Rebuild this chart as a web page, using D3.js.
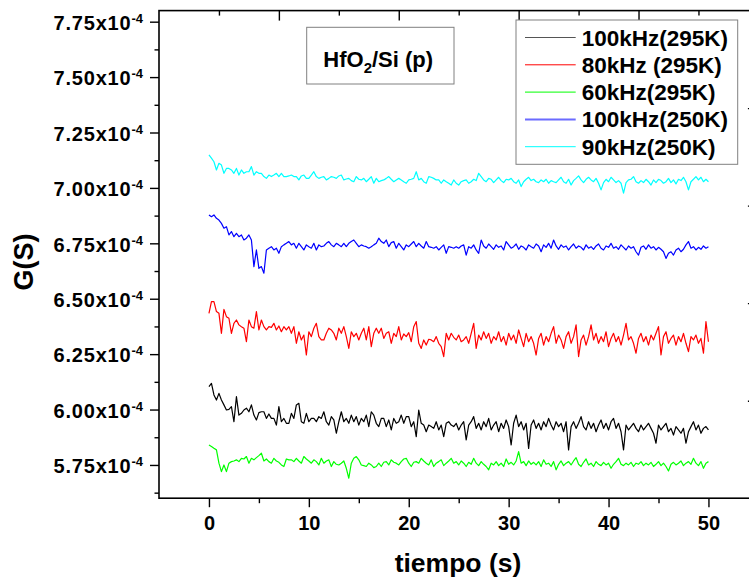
<!DOCTYPE html>
<html>
<head>
<meta charset="utf-8">
<script src="https://cdn.jsdelivr.net/npm/d3@7"></script>
<style>
  body { margin: 0; background: #fff; }
  svg { display: block; font-family: "Liberation Sans", Arial, sans-serif; font-weight: bold; }
  .tick line { stroke: #000; stroke-width: 1.4; }
</style>
</head>
<body>
<div id="container"></div>
<script>
// G(S) in units of 1e-4, sampled every 0.25 s from 0 to 50 s
const dt = 0.25;

const g100k295 = [
  6.103, 6.118, 6.066, 6.043, 6.073, 6.043, 6.021, 5.998, 6.001, 6.013, 5.945, 6.058,
  5.975, 5.983, 5.998, 6.006, 5.990, 6.021, 5.975, 5.953, 5.986, 5.990, 5.990, 5.960,
  5.980, 5.960, 5.960, 5.930, 6.013, 5.945, 5.960, 5.938, 5.938, 5.983, 5.960, 6.021,
  6.028, 5.945, 5.938, 5.983, 5.945, 5.960, 5.960, 5.945, 5.968, 5.960, 5.990, 5.945,
  5.930, 5.968, 5.953, 5.893, 5.945, 5.990, 5.945, 5.960, 5.938, 5.975, 5.945, 5.968,
  5.930, 5.960, 5.945, 5.975, 5.923, 5.990, 5.975, 5.938, 5.923, 5.960, 5.960, 5.923,
  5.953, 5.908, 5.960, 5.938, 5.945, 5.975, 5.938, 5.968, 5.968, 5.923, 5.945, 5.878,
  5.998, 5.938, 5.930, 5.900, 5.930, 5.923, 5.915, 5.945, 5.908, 5.930, 5.878, 5.938,
  5.945, 5.930, 5.923, 5.938, 5.908, 5.930, 5.945, 5.863, 5.930, 5.945, 5.968, 5.915,
  5.938, 5.908, 5.945, 5.923, 5.960, 5.908, 5.930, 5.945, 5.900, 5.938, 5.915, 5.953,
  5.923, 5.840, 5.938, 5.975, 5.923, 5.945, 5.908, 5.938, 5.825, 5.930, 5.953, 5.915,
  5.938, 5.908, 5.945, 5.923, 5.960, 5.930, 5.908, 5.945, 5.923, 5.938, 5.900, 5.945,
  5.818, 5.923, 5.945, 5.915, 5.938, 5.968, 5.923, 5.908, 5.945, 5.915, 5.938, 5.900,
  5.930, 5.953, 5.915, 5.938, 5.908, 5.945, 5.960, 5.915, 5.938, 5.900, 5.818, 5.930,
  5.908, 5.923, 5.938, 5.915, 5.900, 5.930, 5.908, 5.923, 5.938, 5.915, 5.893, 5.848,
  5.930, 5.908, 5.923, 5.938, 5.900, 5.915, 5.885, 5.923, 5.908, 5.893, 5.915, 5.848,
  5.900, 5.923, 5.945, 5.908, 5.930, 5.893, 5.915, 5.923, 5.908
];

const g80k295 = [
  6.434, 6.487, 6.487, 6.442, 6.434, 6.344, 6.452, 6.419, 6.412, 6.344, 6.389, 6.404,
  6.382, 6.374, 6.367, 6.306, 6.404, 6.374, 6.367, 6.442, 6.359, 6.404, 6.374, 6.359,
  6.374, 6.371, 6.389, 6.359, 6.377, 6.351, 6.374, 6.359, 6.374, 6.344, 6.374, 6.299,
  6.351, 6.314, 6.336, 6.246, 6.351, 6.329, 6.367, 6.389, 6.329, 6.314, 6.314, 6.344,
  6.367, 6.359, 6.344, 6.314, 6.367, 6.344, 6.374, 6.329, 6.276, 6.351, 6.329, 6.344,
  6.314, 6.344, 6.367, 6.314, 6.374, 6.284, 6.344, 6.367, 6.344, 6.367, 6.321, 6.344,
  6.351, 6.299, 6.344, 6.329, 6.374, 6.314, 6.341, 6.329, 6.347, 6.306, 6.374, 6.397,
  6.299, 6.276, 6.314, 6.291, 6.317, 6.314, 6.306, 6.329, 6.299, 6.284, 6.239, 6.344,
  6.314, 6.344, 6.326, 6.314, 6.336, 6.306, 6.314, 6.329, 6.299, 6.344, 6.389, 6.276,
  6.336, 6.314, 6.351, 6.321, 6.344, 6.299, 6.329, 6.314, 6.351, 6.306, 6.329, 6.291,
  6.344, 6.314, 6.336, 6.299, 6.359, 6.321, 6.284, 6.344, 6.306, 6.329, 6.299, 6.246,
  6.321, 6.344, 6.291, 6.329, 6.306, 6.344, 6.374, 6.299, 6.336, 6.314, 6.276, 6.329,
  6.351, 6.299, 6.329, 6.382, 6.239, 6.314, 6.336, 6.291, 6.329, 6.382, 6.314, 6.344,
  6.299, 6.329, 6.306, 6.351, 6.284, 6.321, 6.344, 6.306, 6.329, 6.291, 6.336, 6.389,
  6.314, 6.329, 6.299, 6.254, 6.321, 6.344, 6.306, 6.329, 6.291, 6.336, 6.314, 6.344,
  6.374, 6.246, 6.329, 6.351, 6.299, 6.321, 6.336, 6.291, 6.329, 6.306, 6.344, 6.299,
  6.261, 6.329, 6.314, 6.336, 6.299, 6.321, 6.254, 6.397, 6.306
];

const g60k295 = [
  5.840, 5.833, 5.825, 5.818, 5.758, 5.720, 5.750, 5.720, 5.758, 5.765, 5.768, 5.773,
  5.765, 5.780, 5.777, 5.788, 5.758, 5.780, 5.773, 5.783, 5.792, 5.803, 5.768, 5.777,
  5.765, 5.758, 5.780, 5.768, 5.762, 5.750, 5.743, 5.777, 5.773, 5.773, 5.765, 5.780,
  5.768, 5.758, 5.788, 5.777, 5.768, 5.758, 5.773, 5.765, 5.750, 5.780, 5.758, 5.768,
  5.773, 5.743, 5.765, 5.753, 5.750, 5.758, 5.768, 5.735, 5.690, 5.758, 5.780, 5.788,
  5.773, 5.750, 5.747, 5.743, 5.758, 5.750, 5.738, 5.743, 5.758, 5.743, 5.762, 5.765,
  5.750, 5.773, 5.762, 5.758, 5.750, 5.765, 5.777, 5.780, 5.758, 5.743, 5.762, 5.765,
  5.758, 5.780, 5.768, 5.758, 5.750, 5.773, 5.743, 5.758, 5.765, 5.773, 5.747, 5.758,
  5.768, 5.780, 5.758, 5.765, 5.750, 5.768, 5.758, 5.743, 5.762, 5.753, 5.780, 5.758,
  5.747, 5.765, 5.753, 5.743, 5.728, 5.758, 5.750, 5.765, 5.747, 5.758, 5.743, 5.777,
  5.753, 5.762, 5.750, 5.768, 5.810, 5.758, 5.765, 5.747, 5.768, 5.753, 5.762, 5.750,
  5.765, 5.743, 5.773, 5.753, 5.758, 5.743, 5.765, 5.728, 5.753, 5.768, 5.747, 5.758,
  5.765, 5.750, 5.768, 5.783, 5.753, 5.743, 5.762, 5.777, 5.750, 5.758, 5.743, 5.765,
  5.753, 5.747, 5.762, 5.750, 5.758, 5.735, 5.753, 5.765, 5.780, 5.753, 5.747, 5.758,
  5.750, 5.762, 5.743, 5.758, 5.753, 5.765, 5.747, 5.758, 5.750, 5.762, 5.743, 5.753,
  5.765, 5.747, 5.758, 5.743, 5.723, 5.753, 5.762, 5.750, 5.758, 5.768, 5.747, 5.758,
  5.765, 5.753, 5.780, 5.758, 5.747, 5.765, 5.735, 5.758, 5.765
];

const g100k250 = [
  6.878, 6.870, 6.878, 6.863, 6.855, 6.840, 6.818, 6.825, 6.788, 6.803, 6.780, 6.795,
  6.780, 6.788, 6.765, 6.773, 6.788, 6.765, 6.645, 6.720, 6.637, 6.645, 6.615, 6.720,
  6.728, 6.735, 6.720, 6.728, 6.705, 6.735, 6.743, 6.750, 6.758, 6.743, 6.750, 6.728,
  6.750, 6.735, 6.720, 6.743, 6.735, 6.728, 6.750, 6.720, 6.743, 6.735, 6.738, 6.750,
  6.758, 6.743, 6.735, 6.750, 6.743, 6.735, 6.750, 6.735, 6.750, 6.758, 6.765, 6.750,
  6.735, 6.743, 6.738, 6.735, 6.728, 6.735, 6.743, 6.750, 6.773, 6.758, 6.750, 6.765,
  6.735, 6.753, 6.758, 6.728, 6.750, 6.735, 6.720, 6.743, 6.735, 6.747, 6.758, 6.735,
  6.750, 6.738, 6.728, 6.758, 6.735, 6.732, 6.728, 6.735, 6.720, 6.732, 6.743, 6.705,
  6.735, 6.732, 6.728, 6.735, 6.728, 6.738, 6.743, 6.697, 6.735, 6.728, 6.743, 6.720,
  6.705, 6.765, 6.738, 6.728, 6.747, 6.735, 6.723, 6.743, 6.732, 6.738, 6.720, 6.758,
  6.743, 6.728, 6.735, 6.747, 6.723, 6.738, 6.732, 6.720, 6.743, 6.735, 6.728, 6.747,
  6.738, 6.712, 6.743, 6.732, 6.750, 6.728, 6.765, 6.738, 6.723, 6.743, 6.732, 6.738,
  6.720, 6.735, 6.747, 6.728, 6.738, 6.732, 6.720, 6.743, 6.728, 6.735, 6.723, 6.738,
  6.747, 6.728, 6.720, 6.738, 6.732, 6.750, 6.728, 6.735, 6.723, 6.743, 6.732, 6.720,
  6.738, 6.728, 6.735, 6.712, 6.697, 6.732, 6.738, 6.723, 6.743, 6.728, 6.735, 6.720,
  6.732, 6.723, 6.712, 6.682, 6.705, 6.712, 6.697, 6.720, 6.728, 6.712, 6.723, 6.743,
  6.758, 6.728, 6.735, 6.720, 6.732, 6.723, 6.738, 6.728, 6.735
];

const g90k250 = [
  7.149, 7.134, 7.118, 7.081, 7.111, 7.103, 7.066, 7.088, 7.088, 7.081, 7.066, 7.088,
  7.058, 7.081, 7.066, 7.073, 7.073, 7.096, 7.058, 7.073, 7.066, 7.066, 7.051, 7.043,
  7.058, 7.051, 7.058, 7.066, 7.051, 7.066, 7.051, 7.051, 7.054, 7.058, 7.051, 7.051,
  7.036, 7.054, 7.058, 7.043, 7.043, 7.058, 7.073, 7.051, 7.043, 7.048, 7.051, 7.036,
  7.043, 7.051, 7.048, 7.043, 7.054, 7.058, 7.036, 7.040, 7.043, 7.033, 7.028, 7.051,
  7.039, 7.036, 7.043, 7.028, 7.039, 7.051, 7.021, 7.043, 7.028, 7.033, 7.036, 7.043,
  7.051, 7.039, 7.028, 7.036, 7.043, 7.036, 7.028, 7.021, 7.036, 7.039, 7.043, 7.073,
  7.036, 7.043, 7.028, 7.021, 7.051, 7.048, 7.043, 7.036, 7.036, 7.021, 7.036, 7.028,
  7.021, 7.013, 7.036, 7.021, 7.013, 7.028, 7.033, 7.036, 7.021, 7.028, 7.039, 7.033,
  7.066, 7.051, 7.036, 7.028, 7.043, 7.039, 7.024, 7.036, 7.048, 7.033, 7.024, 7.039,
  7.036, 7.043, 7.028, 7.021, 7.036, 7.006, 7.028, 7.039, 7.048, 7.033, 7.039, 7.028,
  7.024, 7.036, 7.028, 7.039, 7.021, 7.033, 7.028, 7.024, 7.036, 7.048, 7.028, 7.021,
  7.039, 7.013, 7.033, 7.043, 7.054, 7.036, 7.024, 7.039, 7.048, 7.036, 7.028, 7.043,
  7.021, 6.991, 7.024, 7.039, 7.028, 7.048, 7.036, 7.024, 7.033, 7.021, 6.976, 7.024,
  7.036, 7.039, 7.051, 7.028, 7.021, 7.033, 7.024, 7.039, 7.028, 7.013, 7.036, 7.024,
  7.039, 7.033, 7.021, 7.028, 7.043, 7.024, 7.036, 7.018, 7.039, 7.033, 7.048, 7.028,
  6.991, 7.028, 7.039, 7.051, 7.036, 7.048, 7.028, 7.039, 7.028
];

const series = [g100k295, g80k295, g60k295, g100k250, g90k250];
const labels = ["100kHz(295K)", "80kHz (295K)", "60kHz(295K)", "100kHz(250K)", "90kHz(250K)"];
const colors = ["#000000", "#ff0000", "#00ff00", "#0000ff", "#00ffff"];
// legend swatches look a bit different from the curves in the original
const swatchColors = ["#555555", "#ff0000", "#00ff00", "#6b6bff", "#00ffff"];
const swatchWidths = [1, 1, 1, 2, 1];

const xMajor = [0, 10, 20, 30, 40, 50];
const xMinor = [5, 15, 25, 35, 45];
const yMajor = [5.75, 6.00, 6.25, 6.50, 6.75, 7.00, 7.25, 7.50, 7.75];
const yMinor = [5.625, 5.875, 6.125, 6.375, 6.625, 6.875, 7.125, 7.375, 7.625];

function showChart() {
    const width = 749;
    const height = 583;

    const x = d3.scaleLinear().domain([-5, 55]).range([159, 758.4]);
    const y = d3.scaleLinear().domain([5.6, 7.8]).range([498.2, 10.6]);
    // top and right axes only carry ticks, no labels
    const x2 = d3.scaleLinear().domain([0, 5]).range([159, 758.4]);
    const y2 = d3.scaleLinear().domain([0, 5]).range([498.2, 10.6]);

    const svg = d3.create("svg")
        .attr("width", width)
        .attr("height", height)
        .attr("viewBox", [0, 0, width, height]);

    svg.append("rect").attr("width", width).attr("height", height).attr("fill", "#fff");

    const time = g100k295.map((d, i) => i * dt);

    const line = d3.line()
        .x((d, i) => x(time[i]))
        .y(d => y(d));

    svg.selectAll(".series")
        .data(series)
        .join("path")
        .classed("series", true)
        .attr("fill", "none")
        .attr("stroke", (d, i) => colors[i])
        .attr("stroke-width", 1.2)
        .attr("stroke-linejoin", "round")
        .attr("d", line);

    // bottom axis
    const bottom = svg.append("g")
        .attr("transform", `translate(0,${y.range()[0]})`)
        .call(d3.axisBottom(x).tickValues(xMajor).tickSize(9).tickSizeOuter(0));
    bottom.selectAll("text")
        .attr("y", 32)
        .attr("dy", 0)
        .attr("font-size", 20)
        .attr("font-family", "Liberation Sans, Arial, sans-serif")
        .attr("font-weight", "bold")
        .attr("fill", "#000");
    svg.append("g")
        .attr("transform", `translate(0,${y.range()[0]})`)
        .call(d3.axisBottom(x).tickValues(xMinor).tickSize(5).tickSizeOuter(0).tickFormat(""));

    // left axis
    svg.append("g")
        .attr("transform", `translate(${x.range()[0]},0)`)
        .call(d3.axisLeft(y).tickValues(yMajor).tickSize(9).tickSizeOuter(0).tickFormat(""));
    svg.append("g")
        .attr("transform", `translate(${x.range()[0]},0)`)
        .call(d3.axisLeft(y).tickValues(yMinor).tickSize(4.5).tickSizeOuter(0).tickFormat(""));

    const ylab = svg.append("g")
        .selectAll("text")
        .data(yMajor)
        .join("text")
        .attr("x", 143)
        .attr("y", d => y(d) + 8.3)
        .attr("text-anchor", "end")
        .attr("font-size", 20)
        .attr("letter-spacing", 0.8);
    ylab.append("tspan").text(d => d.toFixed(2) + "x10");
    ylab.append("tspan").attr("dy", -7).attr("font-size", 13).attr("letter-spacing", 0).text("-4");

    // top and right ticks point inwards
    svg.append("g")
        .attr("transform", `translate(0,${y.range()[1]})`)
        .call(d3.axisTop(x2).tickValues([1, 2, 3, 4]).tickSize(-10).tickSizeOuter(0).tickFormat(""));
    svg.append("g")
        .attr("transform", `translate(0,${y.range()[1]})`)
        .call(d3.axisTop(x2).tickValues([0.5, 1.5, 2.5, 3.5, 4.5]).tickSize(-5).tickSizeOuter(0).tickFormat(""));
    svg.append("g")
        .attr("transform", `translate(${x.range()[1]},0)`)
        .call(d3.axisRight(y2).tickValues([1, 2, 3, 4]).tickSize(-10.5).tickSizeOuter(0).tickFormat(""));

    svg.selectAll(".domain").remove();

    svg.append("rect")
        .attr("x", x.range()[0])
        .attr("y", y.range()[1])
        .attr("width", x.range()[1] - x.range()[0])
        .attr("height", y.range()[0] - y.range()[1])
        .attr("fill", "none")
        .attr("stroke", "#000")
        .attr("stroke-width", 1.6);

    // axis titles
    svg.append("text")
        .attr("x", 458)
        .attr("y", 572)
        .attr("text-anchor", "middle")
        .attr("font-size", 26.5)
        .text("tiempo (s)");

    svg.append("text")
        .attr("transform", "translate(33,262) rotate(-90)")
        .attr("text-anchor", "middle")
        .attr("font-size", 27)
        .text("G(S)");

    // sample label box
    svg.append("rect")
        .attr("x", 306.7).attr("y", 27.3)
        .attr("width", 147.3).attr("height", 56.7)
        .attr("fill", "#fff")
        .attr("stroke", "#808080");
    const title = svg.append("text")
        .attr("x", 323.3)
        .attr("y", 66.7)
        .attr("font-size", 22);
    title.append("tspan").text("HfO");
    title.append("tspan").attr("dy", 6.5).attr("font-size", 15).text("2");
    title.append("tspan").attr("dy", -6.5).text("/Si (p)");

    // legend
    const legend = svg.append("g");
    legend.append("rect")
        .attr("x", 516).attr("y", 20)
        .attr("width", 221.7).attr("height", 144.3)
        .attr("fill", "#fff")
        .attr("stroke", "#808080");
    const item = legend.selectAll(".item")
        .data(labels)
        .join("g")
        .classed("item", true)
        .attr("transform", (d, i) => `translate(0,${37.5 + i * 27.3})`);
    item.append("line")
        .attr("x1", 525).attr("x2", 575.7)
        .attr("stroke", (d, i) => swatchColors[i])
        .attr("stroke-width", (d, i) => swatchWidths[i]);
    item.append("text")
        .attr("x", 581.7)
        .attr("y", 8)
        .attr("font-size", 22.5)
        .text(d => d);

    container.append(svg.node());
}

const container = document.getElementById("container");
showChart();
</script>
</body>
</html>
